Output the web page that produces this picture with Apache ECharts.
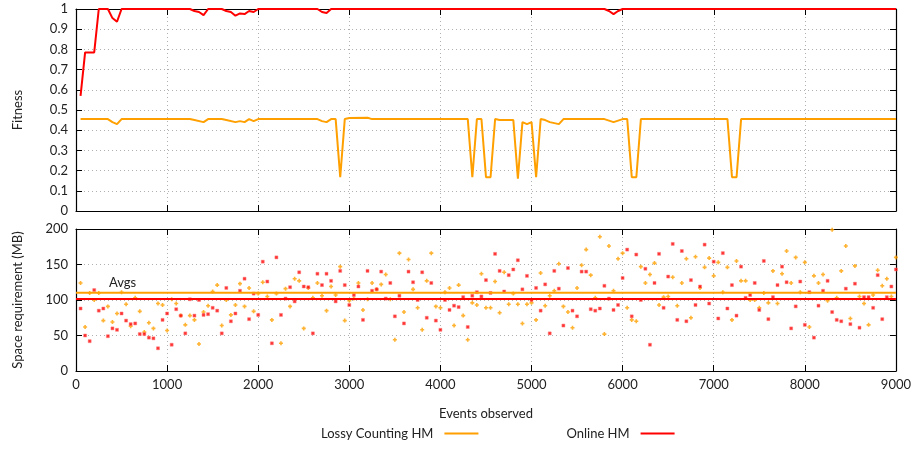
<!DOCTYPE html>
<html>
<head>
<meta charset="utf-8">
<script src="https://cdn.jsdelivr.net/npm/echarts@6/dist/echarts.min.js"></script>
<style>
html, body { margin: 0; padding: 0; background: #fff; }
#chart { width: 914px; height: 451px; }
</style>
</head>
<body>
<div id="chart"></div>
<script>
// fitness curves, [events, fitness] at the points where the curve bends
const lossyFitness = [
    [50, 0.455], [350, 0.455], [400, 0.44], [450, 0.43], [500, 0.455], [1250, 0.455], [1300, 0.45],
    [1400, 0.44], [1450, 0.455], [1600, 0.455], [1650, 0.45], [1750, 0.44], [1800, 0.445], [1850, 0.44],
    [1900, 0.455], [1950, 0.445], [2000, 0.455], [2650, 0.455], [2700, 0.445], [2750, 0.44], [2800, 0.455],
    [2850, 0.455], [2900, 0.167], [2950, 0.455], [3000, 0.46], [3200, 0.462], [3250, 0.455], [4300, 0.455],
    [4350, 0.167], [4400, 0.455], [4450, 0.455], [4500, 0.167], [4550, 0.167], [4600, 0.455], [4650, 0.45],
    [4800, 0.45], [4850, 0.16], [4900, 0.44], [4950, 0.43], [5000, 0.44], [5050, 0.167], [5100, 0.455],
    [5150, 0.45], [5200, 0.44], [5300, 0.43], [5350, 0.455], [5800, 0.455], [5900, 0.44], [6000, 0.455],
    [6050, 0.455], [6100, 0.167], [6150, 0.167], [6200, 0.455], [7150, 0.455], [7200, 0.167], [7250, 0.167],
    [7300, 0.455], [9000, 0.455]
];
const onlineFitness = [
    [50, 0.57], [100, 0.785], [200, 0.785], [250, 1], [350, 1], [400, 0.955], [450, 0.937], [500, 1],
    [1250, 1], [1300, 0.99], [1350, 0.985], [1400, 0.97], [1450, 1], [1600, 1], [1650, 0.99], [1700, 0.985],
    [1750, 0.967], [1800, 0.978], [1850, 0.975], [1900, 0.99], [1950, 0.985], [2000, 1], [2650, 1],
    [2700, 0.985], [2750, 0.98], [2800, 1], [5800, 1], [5850, 0.99], [5900, 0.975], [5950, 0.99], [6000, 1],
    [9000, 1]
];

// space requirement (MB), one sample every 50 events starting at 50
const sampleStep = 50;
const lossySpace = [
    124, 62, 110, 100, 110, 71, 91, 69, 81, 111,
    94, 63, 103, 84, 55, 68, 60, 95, 93, 57,
    101, 95, 78, 65, 78, 72, 38, 83, 92, 112,
    121, 64, 100, 79, 93, 123, 91, 117, 84, 109,
    125, 105, 72, 109, 39, 116, 91, 130, 127, 60,
    117, 103, 124, 106, 85, 119, 107, 147, 71, 99,
    102, 124, 86, 101, 124, 115, 122, 136, 101, 44,
    166, 83, 157, 115, 89, 58, 127, 166, 91, 89,
    111, 117, 64, 121, 78, 44, 96, 93, 137, 89,
    89, 126, 82, 139, 94, 109, 94, 67, 94, 96,
    72, 138, 92, 106, 113, 151, 91, 83, 61, 117,
    149, 171, 135, 103, 189, 52, 176, 113, 158, 166,
    89, 72, 70, 147, 124, 136, 152, 93, 104, 105,
    132, 92, 124, 158, 75, 161, 117, 146, 159, 134,
    153, 111, 146, 72, 155, 127, 127, 100, 100, 89,
    110, 96, 141, 95, 137, 169, 124, 160, 111, 153,
    62, 134, 124, 136, 99, 199, 103, 141, 176, 74,
    148, 105, 95, 65, 107, 142, 120, 130, 105, 160
];
const onlineSpace = [
    88, 50, 42, 114, 85, 88, 49, 60, 58, 81,
    71, 66, 67, 52, 52, 47, 46, 32, 72, 81,
    37, 87, 78, 53, 101, 78, 100, 79, 80, 89,
    85, 53, 117, 70, 81, 113, 130, 73, 109, 79,
    154, 126, 39, 160, 79, 102, 118, 98, 139, 119,
    118, 53, 137, 121, 137, 127, 98, 141, 121, 93,
    107, 119, 72, 141, 113, 115, 140, 102, 124, 77,
    106, 67, 140, 125, 100, 139, 75, 124, 71, 58,
    100, 86, 92, 90, 104, 62, 106, 111, 105, 128,
    110, 165, 141, 112, 135, 143, 156, 115, 134, 100,
    117, 85, 122, 53, 141, 116, 64, 145, 85, 77,
    140, 140, 87, 85, 88, 120, 102, 86, 93, 131,
    171, 77, 164, 100, 144, 37, 124, 165, 89, 133,
    179, 72, 169, 70, 128, 93, 119, 178, 95, 154,
    74, 166, 88, 121, 78, 147, 103, 107, 124, 86,
    155, 73, 104, 121, 147, 125, 60, 91, 126, 65,
    111, 47, 92, 113, 127, 83, 72, 70, 116, 66,
    123, 61, 104, 104, 89, 135, 73, 104, 119, 143
];
const lossyAvg = 110.3;
const onlineAvg = 101.4;

const ORANGE = '#ffa000';
const RED = '#ff0000';
const FONT = 'Lato, "Open Sans", sans-serif';

const chart = echarts.init(document.getElementById('chart'));

const withEvents = arr => arr.map((v, i) => [(i + 1) * sampleStep, v]);
const avgLine = v => [[0, v], [9000, v]];

const tickStyle = {show: true, inside: true, length: 6, lineStyle: {color: '#000'}};
const lineStyle = {show: true, onZero: false, lineStyle: {color: '#000', width: 1.2}};
const dotted = {show: true, lineStyle: {color: '#b0b0b0', type: [1, 3], width: 1}};

function xAx(grid, pos, labels) {
    return {
        type: 'value', gridIndex: grid, position: pos, min: 0, max: 9000, interval: 1000,
        axisLine: lineStyle, axisTick: tickStyle,
        axisLabel: {show: labels, color: '#222', fontSize: 13, fontFamily: FONT, margin: 7,
            formatter: v => String(v)},
        splitLine: pos === 'bottom' ? dotted : {show: false}
    };
}
function yAx(grid, pos, max, step, labels, name, fmt) {
    return {
        type: 'value', gridIndex: grid, position: pos, min: 0, max: max, interval: step,
        axisLine: lineStyle, axisTick: tickStyle,
        axisLabel: {show: labels, color: '#222', fontSize: 13, fontFamily: FONT, margin: 8, formatter: fmt},
        splitLine: pos === 'left' ? dotted : {show: false},
        name: name, nameLocation: 'middle', nameGap: 52,
        nameTextStyle: {color: '#222', fontSize: 13, fontFamily: FONT}
    };
}

const option = {
    animation: false,
    grid: [
        {left: 76, right: 18, top: 9, height: 202},
        {left: 76, right: 18, top: 229, height: 142}
    ],
    xAxis: [
        xAx(0, 'bottom', false),
        xAx(0, 'top', false),
        Object.assign(xAx(1, 'bottom', true), {
            name: 'Events observed', nameLocation: 'middle', nameGap: 36,
            nameTextStyle: {color: '#222', fontSize: 13, fontFamily: FONT}
        }),
        xAx(1, 'top', false)
    ],
    yAxis: [
        yAx(0, 'left', 1, 0.1, true, 'Fitness', v => String(+v.toFixed(1))),
        yAx(0, 'right', 1, 0.1, false, ''),
        yAx(1, 'left', 200, 50, true, 'Space requirement (MB)', v => String(v)),
        yAx(1, 'right', 200, 50, false, '')
    ],
    legend: {
        left: 316, bottom: 6, itemGap: 88, align: 'right',
        itemWidth: 34, itemHeight: 2,
        textStyle: {color: '#222', fontSize: 13, fontFamily: FONT, padding: [0, 6, 0, 0]},
        data: [
            {name: 'Lossy Counting HM', icon: 'rect'},
            {name: 'Online HM', icon: 'rect'}
        ]
    },
    graphic: [{
        type: 'text', left: 109, top: 276,
        style: {text: 'Avgs', fill: '#222', font: '13px ' + FONT}
    }],
    series: [
        {
            name: 'Lossy Counting HM', type: 'line', xAxisIndex: 0, yAxisIndex: 0,
            data: lossyFitness, showSymbol: false, color: ORANGE,
            lineStyle: {color: ORANGE, width: 2}, z: 3
        },
        {
            name: 'Online HM', type: 'line', xAxisIndex: 0, yAxisIndex: 0,
            data: onlineFitness, showSymbol: false, color: RED,
            lineStyle: {color: RED, width: 2}, z: 4
        },
        {
            name: 'lossy space', type: 'scatter', xAxisIndex: 2, yAxisIndex: 2,
            data: withEvents(lossySpace), symbol: 'path://M1.5,0H3.5V1.5H5V3.5H3.5V5H1.5V3.5H0V1.5H1.5Z',
            symbolSize: 4, itemStyle: {color: ORANGE}
        },
        {
            name: 'online space', type: 'scatter', xAxisIndex: 2, yAxisIndex: 2,
            data: withEvents(onlineSpace), symbol: 'rect', symbolSize: 3,
            itemStyle: {color: RED, borderColor: 'rgba(255,120,120,0.6)', borderWidth: 1}
        },
        {
            name: 'lossy avg', type: 'line', xAxisIndex: 2, yAxisIndex: 2,
            data: avgLine(lossyAvg), showSymbol: false,
            lineStyle: {color: ORANGE, width: 2}, z: 5
        },
        {
            name: 'online avg', type: 'line', xAxisIndex: 2, yAxisIndex: 2,
            data: avgLine(onlineAvg), showSymbol: false,
            lineStyle: {color: RED, width: 2.2}, z: 5
        }
    ]
};

chart.setOption(option);
</script>
</body>
</html>
